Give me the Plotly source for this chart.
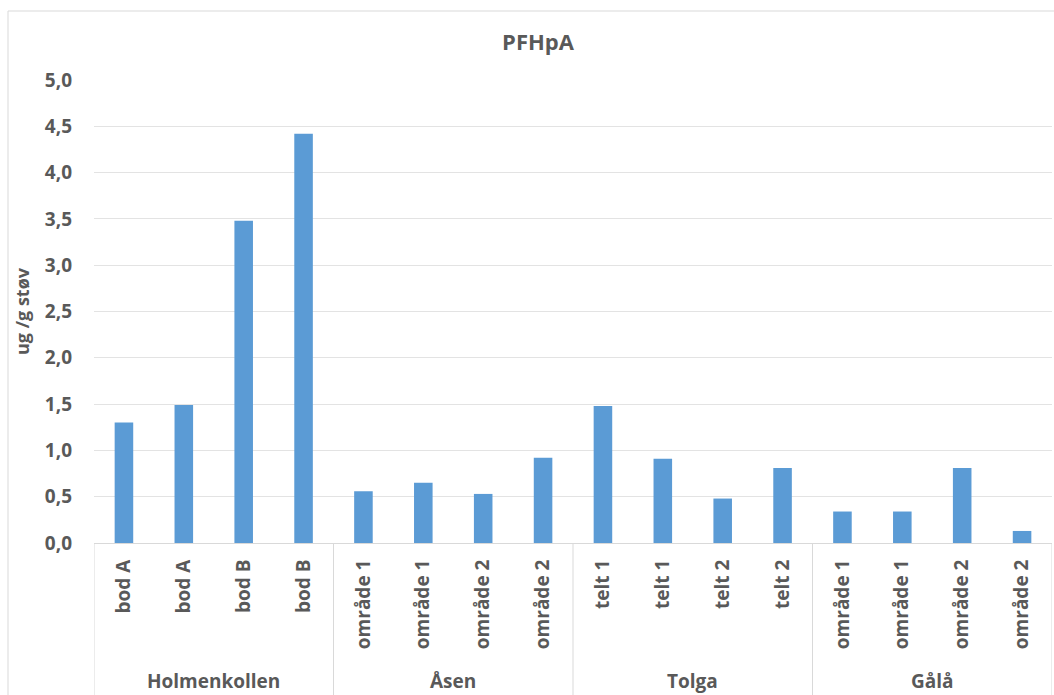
import plotly.graph_objects as go

# PFHpA dust concentrations per sample, grouped by site
sites = ["Holmenkollen", "Åsen", "Tolga", "Gålå"]
samples = [
    ["bod A", "bod A", "bod B", "bod B"],
    ["område 1", "område 1", "område 2", "område 2"],
    ["telt 1", "telt 1", "telt 2", "telt 2"],
    ["område 1", "område 1", "område 2", "område 2"],
]
values = [
    [1.30, 1.49, 3.48, 4.42],
    [0.56, 0.65, 0.53, 0.92],
    [1.48, 0.91, 0.48, 0.81],
    [0.34, 0.34, 0.81, 0.13],
]
y_ticks = [0.0, 0.5, 1.0, 1.5, 2.0, 2.5, 3.0, 3.5, 4.0, 4.5, 5.0]

FONT = "Open Sans"
TXT = "#595959"
GRID = "#e3e3e3"
FS = 19

labels = [s for grp in samples for s in grp]
ys = [v for grp in values for v in grp]
xs = list(range(len(ys)))

fig = go.Figure(
    go.Bar(x=xs, y=ys, marker=dict(color="#5B9BD5", line=dict(width=0)), width=0.31)
)

W, H = 1054, 695
L, R, T, B = 94, 2, 80, 152
plot_h = H - T - B
plot_w = W - L - R

shapes = []
annotations = []
# group dividers below the category axis
start = 0
bounds = [-0.5]
for grp in samples:
    start += len(grp)
    bounds.append(start - 0.5)
for b in bounds:
    shapes.append(dict(type="line", xref="x", yref="paper", x0=b, x1=b,
                       y0=0, y1=-(B + 10) / plot_h,
                       line=dict(color="#d9d9d9", width=1)))
# site names centered under each group
start = 0
for site, grp in zip(sites, samples):
    mid = start + (len(grp) - 1) / 2
    annotations.append(dict(x=mid, xref="x", y=-(681 - (H - B)) / plot_h, yref="paper",
                            text=site, showarrow=False,
                            font=dict(family=FONT, size=FS, color=TXT, weight="bold"),
                            yanchor="middle"))
    start += len(grp)

# outer chart frame
shapes.append(dict(type="rect", xref="paper", yref="paper",
                   x0=(8 - L) / plot_w, x1=(W + 20 - L) / plot_w,
                   y0=-(B + 20) / plot_h, y1=(H - B - 11) / plot_h,
                   line=dict(color="#d9d9d9", width=1), fillcolor="rgba(0,0,0,0)",
                   layer="below"))

fig.update_layout(
    width=W, height=H,
    margin=dict(l=L, r=R, t=T, b=B),
    paper_bgcolor="white", plot_bgcolor="white",
    showlegend=False,
    title=dict(text="PFHpA", x=538 / W, xanchor="center", y=1 - 42 / H, yanchor="middle",
               font=dict(family=FONT, size=22, color=TXT, weight="bold")),
    shapes=shapes,
    annotations=annotations,
    xaxis=dict(
        tickmode="array", tickvals=xs, ticktext=labels, tickangle=-90,
        range=[-0.5, len(xs) - 0.5],
        showgrid=False, zeroline=False,
        showline=True, linecolor="#d9d9d9", linewidth=1,
        ticks="", ticklabelstandoff=8,
        tickfont=dict(family=FONT, size=FS, color=TXT, weight="bold"),
    ),
    yaxis=dict(
        range=[0, 5.0], tickmode="array", tickvals=y_ticks,
        ticktext=[f"{v:.1f}".replace(".", ",") for v in y_ticks],
        showgrid=True, gridcolor=GRID, gridwidth=1,
        zeroline=False, showline=False, ticks="", ticklabelstandoff=21,
        tickfont=dict(family=FONT, size=FS, color=TXT, weight="bold"),
        title=dict(text="ug /g støv", standoff=10,
                   font=dict(family=FONT, size=18, color=TXT, weight="bold")),
    ),
)

fig.write_html("out.html")
